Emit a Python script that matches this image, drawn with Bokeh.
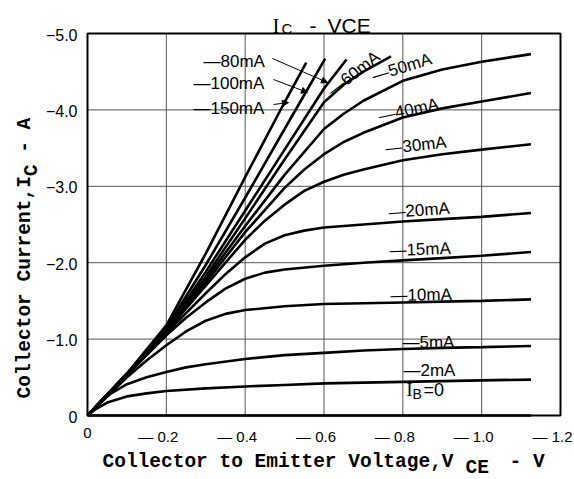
import math
from bokeh.plotting import figure
from bokeh.models import Range1d, Label, Arrow, NormalHead, ColumnDataSource
from bokeh.core.properties import value
from bokeh.embed import file_html
from bokeh.resources import INLINE

# ---------------- data (V_CE in volts, I_C in amperes; both negative) ----------------
vce_ib0 = [0.0, -1.125]
ic_ib0 = [0.0, 0.0]

vce_2 = [0, -0.02, -0.05, -0.1, -0.15, -0.2, -0.3, -0.4, -0.5, -0.6, -0.7, -0.8, -0.9, -1.0, -1.125]
ic_2 = [0, -0.08, -0.17, -0.25, -0.29, -0.32, -0.355, -0.38, -0.40, -0.42, -0.43, -0.44, -0.45, -0.46, -0.47]

vce_5 = [0, -0.03, -0.06, -0.1, -0.15, -0.2, -0.25, -0.3, -0.4, -0.5, -0.6, -0.7, -0.8, -0.9, -1.0, -1.125]
ic_5 = [0, -0.16, -0.29, -0.41, -0.5, -0.57, -0.63, -0.67, -0.74, -0.79, -0.82, -0.85, -0.87, -0.885, -0.895, -0.91]

vce_10 = [0, -0.1, -0.15, -0.2, -0.25, -0.3, -0.35, -0.4, -0.5, -0.6, -0.7, -0.8, -0.9, -1.0, -1.125]
ic_10 = [0, -0.5, -0.72, -0.92, -1.1, -1.24, -1.33, -1.38, -1.43, -1.46, -1.47, -1.48, -1.49, -1.5, -1.52]

vce_15 = [0, -0.1, -0.2, -0.25, -0.3, -0.35, -0.4, -0.45, -0.5, -0.6, -0.7, -0.8, -0.9, -1.0, -1.125]
ic_15 = [0, -0.53, -1.05, -1.28, -1.48, -1.66, -1.79, -1.87, -1.91, -1.96, -2.0, -2.03, -2.06, -2.09, -2.14]

vce_20 = [0, -0.1, -0.2, -0.25, -0.3, -0.35, -0.4, -0.45, -0.5, -0.55, -0.6, -0.7, -0.8, -0.9, -1.0, -1.125]
ic_20 = [0, -0.53, -1.08, -1.34, -1.6, -1.85, -2.07, -2.25, -2.36, -2.42, -2.46, -2.5, -2.54, -2.57, -2.6, -2.65]

vce_30 = [0, -0.1, -0.2, -0.3, -0.4, -0.45, -0.5, -0.55, -0.6, -0.65, -0.7, -0.8, -0.9, -1.0, -1.125]
ic_30 = [0, -0.54, -1.1, -1.7, -2.3, -2.55, -2.76, -2.94, -3.06, -3.15, -3.22, -3.34, -3.42, -3.48, -3.55]

vce_40 = [0, -0.1, -0.2, -0.3, -0.4, -0.5, -0.55, -0.6, -0.65, -0.7, -0.8, -0.9, -1.0, -1.125]
ic_40 = [0, -0.54, -1.1, -1.74, -2.4, -2.98, -3.22, -3.42, -3.58, -3.7, -3.9, -4.02, -4.11, -4.22]

vce_50 = [0, -0.1, -0.2, -0.3, -0.4, -0.5, -0.6, -0.65, -0.7, -0.8, -0.9, -1.0, -1.125]
ic_50 = [0, -0.54, -1.11, -1.78, -2.48, -3.15, -3.75, -3.95, -4.12, -4.38, -4.53, -4.63, -4.73]

vce_60 = [0, -0.1, -0.2, -0.3, -0.4, -0.5, -0.6, -0.65, -0.7, -0.77]
ic_60 = [0, -0.54, -1.12, -1.82, -2.58, -3.35, -4.1, -4.33, -4.5, -4.7]

vce_80 = [0, -0.1, -0.2, -0.3, -0.4, -0.5, -0.6, -0.657]
ic_80 = [0, -0.54, -1.13, -1.88, -2.68, -3.48, -4.28, -4.66]

vce_100 = [0, -0.1, -0.2, -0.3, -0.4, -0.5, -0.603]
ic_100 = [0, -0.55, -1.15, -1.97, -2.85, -3.75, -4.67]

vce_150 = [0, -0.1, -0.2, -0.3, -0.4, -0.5, -0.555]
ic_150 = [0, -0.55, -1.18, -2.12, -3.12, -4.1, -4.62]

curves = [
    (vce_ib0, ic_ib0), (vce_2, ic_2), (vce_5, ic_5), (vce_10, ic_10), (vce_15, ic_15),
    (vce_20, ic_20), (vce_30, ic_30), (vce_40, ic_40), (vce_50, ic_50), (vce_60, ic_60),
    (vce_80, ic_80), (vce_100, ic_100), (vce_150, ic_150),
]

x_ticks = [0, -0.2, -0.4, -0.6, -0.8, -1.0, -1.2]
x_tick_labels = ["0", "\u2014 0.2", "\u2014 0.4", "\u2014 0.6", "\u2014 0.8", "\u2014 1.0", "\u2014 1.2"]
y_ticks = [0, -1.0, -2.0, -3.0, -4.0, -5.0]
y_tick_labels = ["0", "\u22121.0", "\u22122.0", "\u22123.0", "\u22124.0", "\u22125.0"]

# curve label texts, pixel anchors (left, baseline) and angles (deg)
curve_label_text = ["\u201480mA", "\u2014100mA", "\u2014150mA", "\u201460mA", "\u201450mA", "\u201440mA",
                    "\u201430mA", "\u201420mA", "\u201415mA", "\u201410mA", "\u20145mA", "\u20142mA"]
curve_label_px = [203, 193, 193, 329, 372, 378, 385, 388, 389, 390, 402, 403]
curve_label_py = [61, 83, 108, 92, 76, 116, 148, 212, 250, 295, 342, 370]
curve_label_ang = [0, 0, 0, 38, 17, 12, 6, 4, 2, 1, 0, 0]

# leader arrows (pixels): start -> end
arrow_px0 = [272, 273, 273]
arrow_py0 = [58, 79, 104]
arrow_px1 = [327, 307, 288]
arrow_py1 = [82, 92, 102]

# ---------------- geometry (canvas pixels of the plot box) ----------------
W, H = 574, 479
BOX_L, BOX_R, BOX_T, BOX_B = 87, 560, 33, 415
X0, X1 = x_ticks[0], x_ticks[-1]
Y0, Y1 = y_ticks[0], y_ticks[-1]


def dx(px):
    return X0 + (px - BOX_L) * (X1 - X0) / (BOX_R - BOX_L)


def dy(py):
    return Y0 + (BOX_B - py) * (Y1 - Y0) / (BOX_B - BOX_T)


p = figure(width=W, height=H, x_range=Range1d(dx(0), dx(W)), y_range=Range1d(dy(H), dy(0)),
           output_backend="svg", toolbar_location=None, min_border=0,
           x_axis_location=None, y_axis_location=None)
p.background_fill_color = "white"
p.border_fill_color = "white"
p.outline_line_color = None
p.grid.visible = False

# grid lines at the interior ticks
gx = x_ticks[1:-1]
gy = y_ticks[1:-1]
p.segment(x0=gx, y0=[Y0] * len(gx), x1=gx, y1=[Y1] * len(gx), line_color="#555555", line_width=1)
p.segment(x0=[X0] * len(gy), y0=gy, x1=[X1] * len(gy), y1=gy, line_color="#555555", line_width=1)

# plot box
p.quad(left=[X0], right=[X1], bottom=[Y0], top=[Y1], fill_color=None, line_color="black", line_width=2)

# tick labels
p.text(x=x_ticks, y=[Y0] * len(x_ticks), text=x_tick_labels,
       x_offset=[0 if t == "0" else -8 for t in x_tick_labels], y_offset=12,
       text_font=value("Liberation Sans"), text_font_size="15px", text_color="black",
       text_align="center", text_baseline="top")
p.text(x=[X0] * len(y_ticks), y=y_ticks, text=y_tick_labels, x_offset=-10, y_offset=1,
       text_font=value("Liberation Sans"), text_font_size="16px", text_color="black",
       text_align="right", text_baseline="middle")

# curves
for xs, ys in curves:
    p.line(xs, ys, line_color="black", line_width=2.6)

src = ColumnDataSource(dict(
    x=[dx(v) for v in curve_label_px],
    y=[dy(v) for v in curve_label_py],
    t=curve_label_text,
    a=[math.radians(v) for v in curve_label_ang],
))
p.text(x="x", y="y", text="t", angle="a", source=src, text_font=value("Liberation Sans"),
       text_font_size="17px", text_color="black", text_align="left", text_baseline="alphabetic")

for x0, y0, x1, y1 in zip(arrow_px0, arrow_py0, arrow_px1, arrow_py1):
    p.add_layout(Arrow(end=NormalHead(size=6, fill_color="black", line_color="black", line_width=1),
                       x_start=dx(x0), y_start=dy(y0), x_end=dx(x1), y_end=dy(y1),
                       line_color="black", line_width=1))


def lab(text, px, py, font, size, angle=0.0, align="left", bold=False):
    p.add_layout(Label(x=dx(px), y=dy(py), text=text, text_font=font, text_font_size=size,
                       text_color="black", text_align=align, text_baseline="alphabetic",
                       angle=angle, text_font_style="bold" if bold else "normal"))


# I_B = 0 label
lab("I", 406, 389, "Liberation Serif", "18px")
lab("B", 412, 393, "Liberation Sans", "14px")
lab("=0", 423, 389, "Liberation Sans", "18px")

# title
lab("I", 272, 25, "Liberation Serif", "21px")
lab("C", 281, 28, "Liberation Sans", "15px")
lab("-", 309, 25, "Liberation Sans", "21px")
lab("VCE", 327, 25, "Liberation Sans", "21px")

# x axis title
MONO = "Liberation Mono"
lab("Collector to Emitter Voltage,V", 102, 461, MONO, "19.5px", bold=True)
lab("CE", 465, 467, MONO, "19.5px", bold=True)
lab("- V", 509, 461, MONO, "19.5px", bold=True)

# y axis title (rotated)
lab("Collector Current,I", 24, 398, MONO, "19.5px", angle=math.pi / 2, bold=True)
lab("C", 31, 175.7, MONO, "19.5px", angle=math.pi / 2, bold=True)
lab("- A", 24, 152.3, MONO, "19.5px", angle=math.pi / 2, bold=True)

open("out.html", "w").write(file_html(p, INLINE))
